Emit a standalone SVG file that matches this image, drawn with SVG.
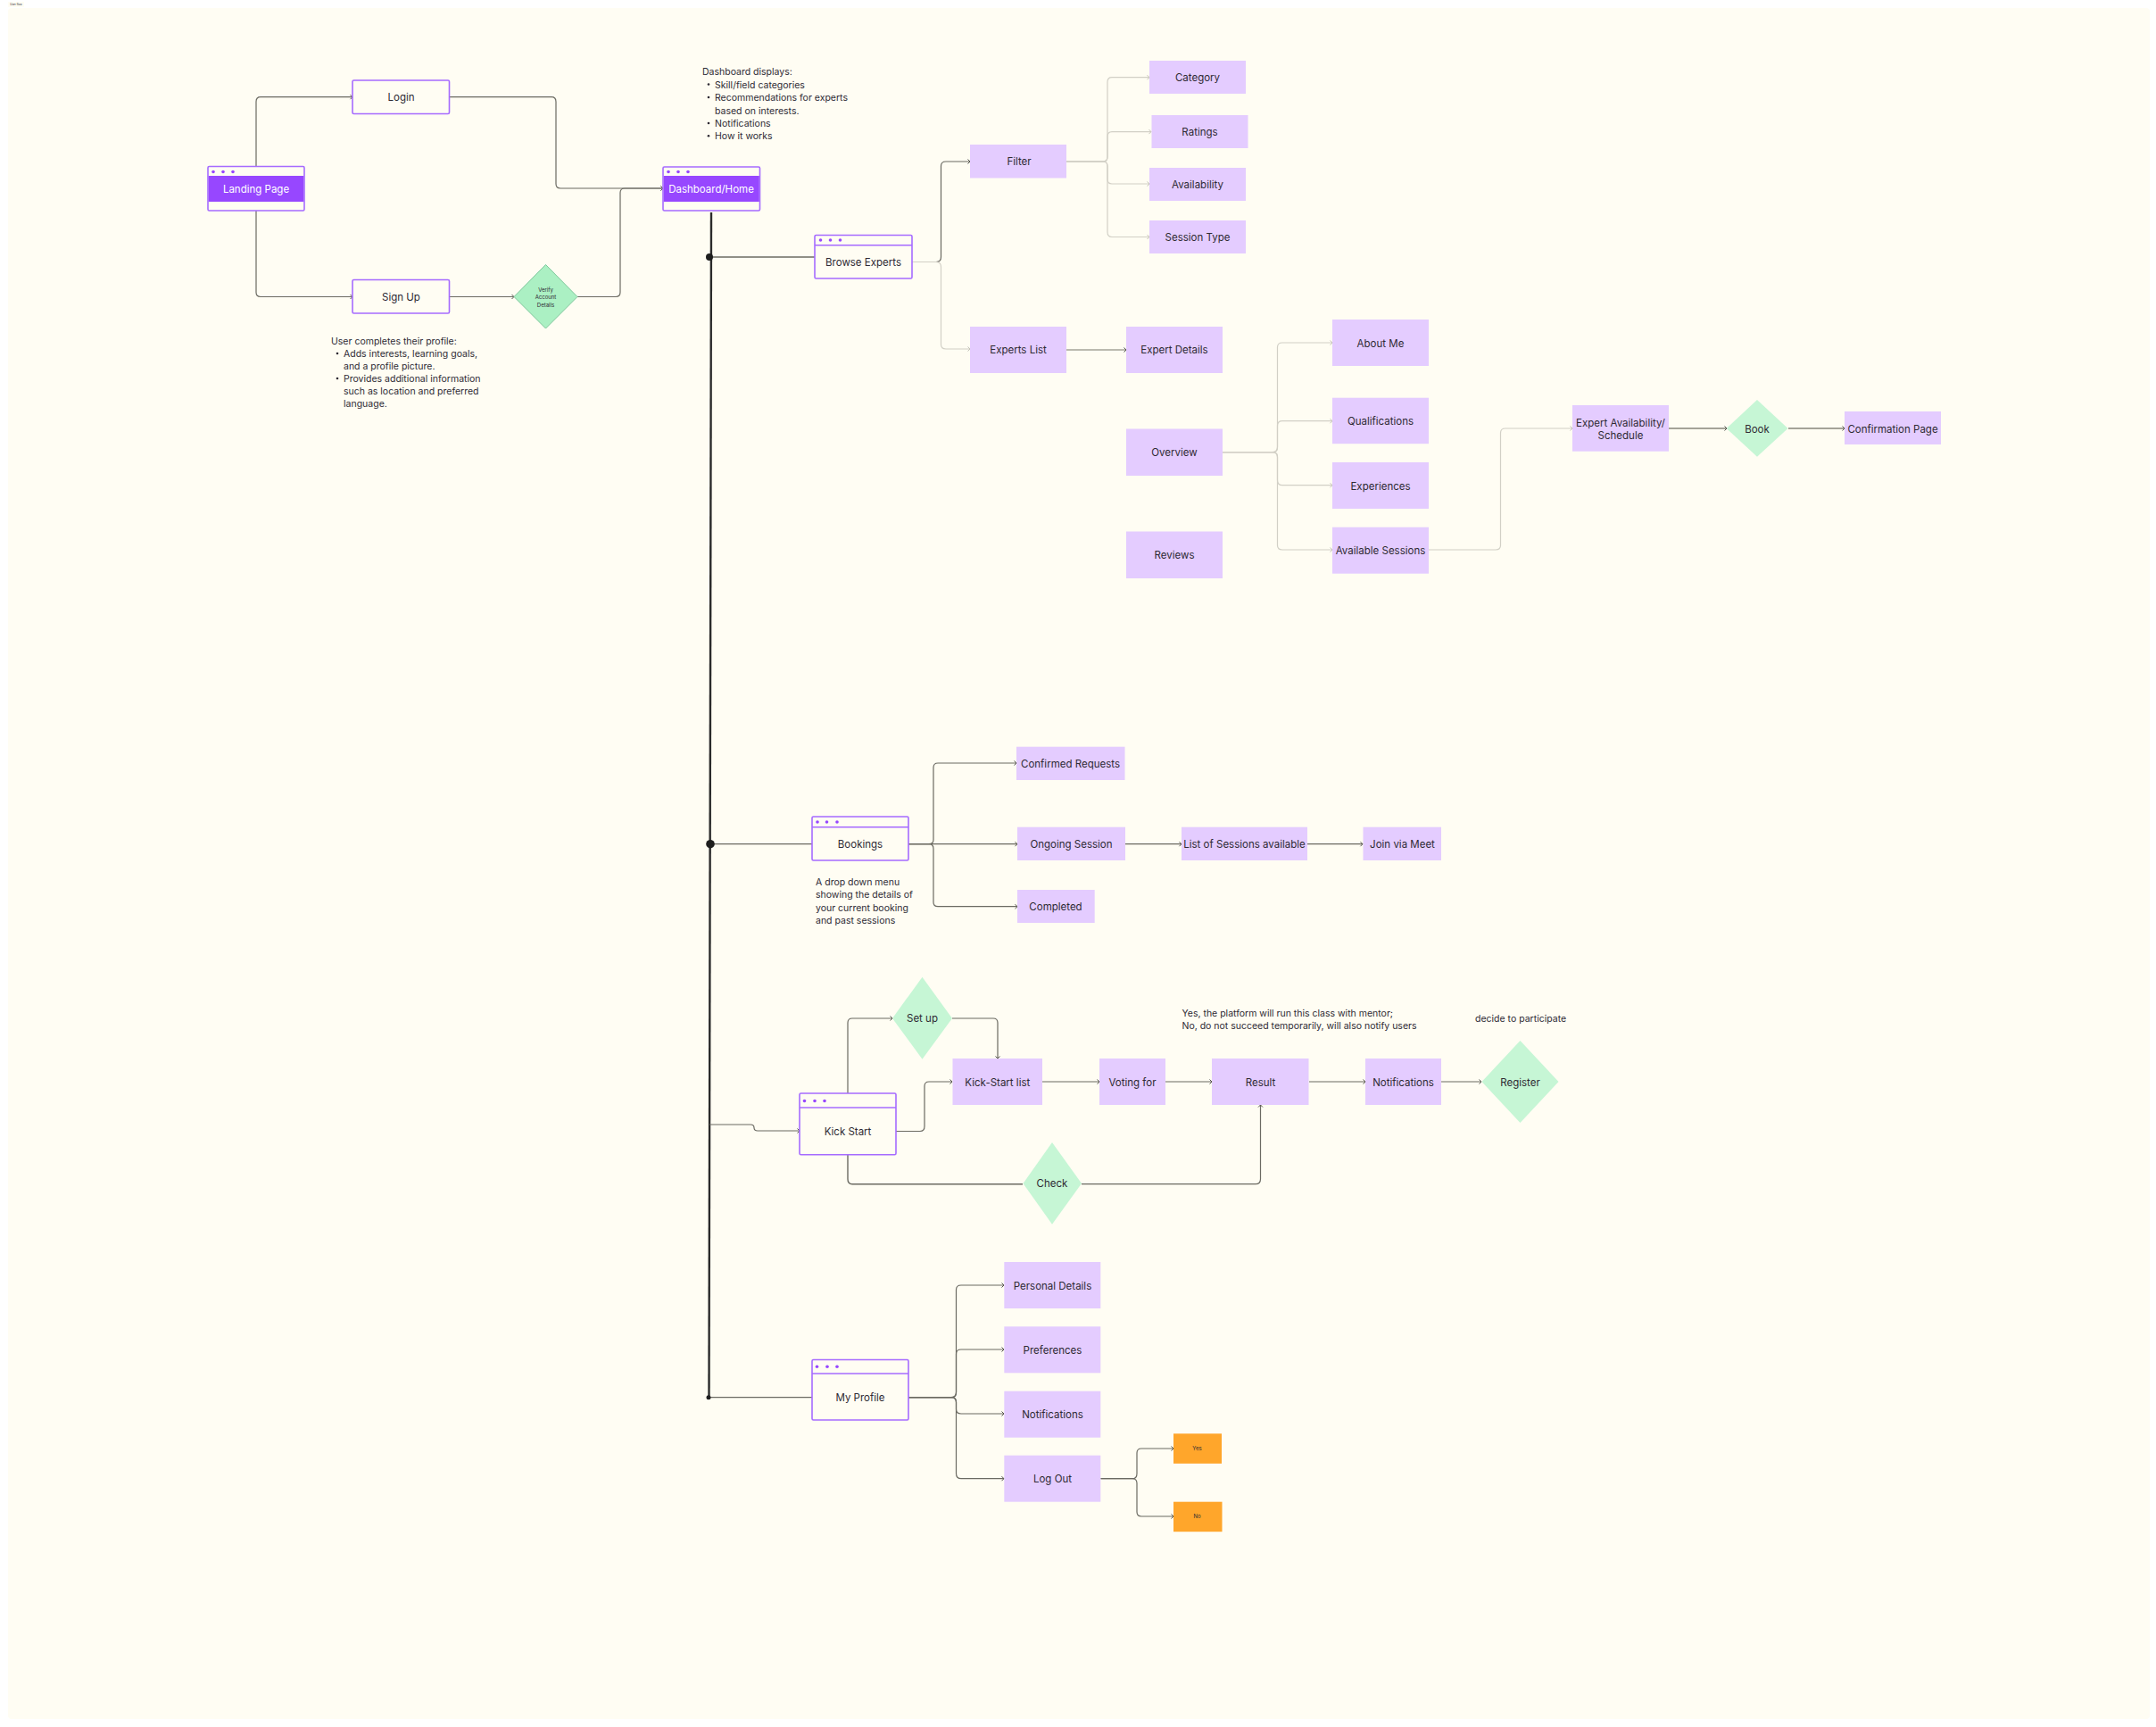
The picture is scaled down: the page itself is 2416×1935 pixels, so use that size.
<svg xmlns="http://www.w3.org/2000/svg" width="2416" height="1935" viewBox="0 0 2416 1935">
<style>
text{font-family:Inter,"Liberation Sans",sans-serif;font-size:10.5px;fill:#2e2a33}
.c{text-anchor:middle;dominant-baseline:central}
.big{font-size:11.5px}
.w{fill:#fff}
.win{fill:#fffdf3;stroke:#a66bff;stroke-width:1.6}
.band{fill:#9747ff}
.sep{stroke:#a66bff;stroke-width:1.4;fill:none}
.dot{fill:#9747ff}
.box{fill:#e4ccff}
.dia{fill:#c6f6d5}
.or{fill:#ffa62b}
.k{fill:none;stroke:#6b6a62;stroke-width:1.2;marker-end:url(#a)}
.n{fill:none;stroke:#6b6a62;stroke-width:1.2}
.l{fill:none;stroke:#d2d0c6;stroke-width:1.2;marker-end:url(#b)}
.ln{fill:none;stroke:#d2d0c6;stroke-width:1.2}
.g{fill:none;stroke:#a5a398;stroke-width:1.8;marker-end:url(#a)}
</style>
<defs>
<marker id="a" markerUnits="userSpaceOnUse" markerWidth="6" markerHeight="8" refX="5" refY="4" orient="auto"><path d="M2.5 1.5L5 4L2.5 6.5" fill="none" stroke="#55544d" stroke-width="1"/></marker>
<marker id="b" markerUnits="userSpaceOnUse" markerWidth="6" markerHeight="8" refX="5" refY="4" orient="auto"><path d="M2.5 1.5L5 4L2.5 6.5" fill="none" stroke="#c4c2b8" stroke-width="1"/></marker>
</defs>
<rect width="2416" height="1935" fill="#fff"/>
<rect x="9" y="9" width="2400" height="1917" rx="4" fill="#fffdf3"/>
<g id="frame-label"><rect x="9" y="2" width="18" height="6" fill="#fffdf3"/><text x="18" y="5" class="c" style="font-size:3px">User flow</text></g>

<g id="connectors">
<path class="k" d="M287 186V114Q287 108.700 292 108.700H395"/>
<path class="k" d="M287 236V327.500Q287 332.500 292 332.500H395"/>
<path class="k" d="M504 108.700H618Q623 108.700 623 114V206Q623 211 628 211H743"/>
<path class="k" d="M504 332.500H576"/>
<path class="k" d="M647 332.500H690Q695 332.500 695 327.500V216Q695 211 700 211H743"/>
<path d="M797 238L794.500 1566" fill="none" stroke="#2b2b2b" stroke-width="2.400"/>
<path class="n" d="M795 288H913" style="stroke-width:1.500"/>
<path class="k" d="M1022 293.500H1049Q1054.500 293.500 1054.500 288V186Q1054.500 181 1060 181H1087"/>
<path class="l" d="M1022 293.500H1049Q1054.500 293.500 1054.500 299V386Q1054.500 391 1060 391H1087"/>
<path class="l" d="M1195 181H1236Q1241 181 1241 176V92Q1241 86.700 1246 86.700H1288"/>
<path class="l" d="M1195 181H1236Q1241 181 1241 176V153Q1241 147.600 1246 147.600H1290"/>
<path class="l" d="M1195 181H1236Q1241 181 1241 186V201Q1241 206 1246 206H1288"/>
<path class="l" d="M1195 181H1236Q1241 181 1241 186V260Q1241 265.500 1246 265.500H1288"/>
<path class="g" d="M1195 392H1262" style="stroke-width:1.300"/>
<path class="l" d="M1370 506.700H1426Q1431.500 506.700 1431.500 501V389Q1431.500 384 1437 384H1493"/>
<path class="l" d="M1370 506.700H1426Q1431.500 506.700 1431.500 501V477Q1431.500 471.700 1437 471.700H1493"/>
<path class="l" d="M1370 506.700H1426Q1431.500 506.700 1431.500 512V538Q1431.500 543.700 1437 543.700H1493"/>
<path class="l" d="M1370 506.700H1426Q1431.500 506.700 1431.500 512V611Q1431.500 616 1437 616H1493"/>
<path class="l" d="M1601 616H1676Q1681.500 616 1681.500 611V485Q1681.500 480 1687 480H1762"/>
<path class="g" d="M1870 480H1935"/>
<path class="g" d="M2004 480H2067"/>
<path class="n" d="M796 945.700H910" style="stroke-width:1.300"/>
<path class="k" d="M1018 945.700H1041Q1046 945.700 1046 941V860Q1046 855 1051 855H1139"/>
<path class="k" d="M1018 945.700H1140"/>
<path class="k" d="M1018 945.700H1041Q1046 945.700 1046 951V1011Q1046 1015.700 1051 1015.700H1140"/>
<path class="k" d="M1261 945.700H1324"/>
<path class="k" d="M1465 945.700H1527"/>
<path class="k" d="M795 1260H841Q845 1260 845 1263.500Q845 1267 849 1267H896"/>
<path class="k" d="M950 1225V1146Q950 1141 955 1141H1000"/>
<path class="k" d="M1067 1141H1113Q1118 1141 1118 1146V1186"/>
<path class="k" d="M1004 1267.500H1031Q1036 1267.500 1036 1262V1217Q1036 1212 1041 1212H1067"/>
<path class="k" d="M1168 1212H1232"/>
<path class="k" d="M1306 1212H1358"/>
<path class="k" d="M1467 1212H1530"/>
<path class="k" d="M1615 1212H1660"/>
<path class="n" d="M950 1294V1321Q950 1326.700 955 1326.700H1146" style="stroke-width:1.400"/>
<path class="k" d="M1212 1326.700H1407Q1412.500 1326.700 1412.500 1321V1238"/>
<path class="n" d="M794 1565.700H910" style="stroke-width:1.200"/>
<path class="k" d="M1018 1565.700H1066Q1071.500 1565.700 1071.500 1560V1445Q1071.500 1440 1077 1440H1125"/>
<path class="k" d="M1018 1565.700H1066Q1071.500 1565.700 1071.500 1560V1517Q1071.500 1512 1077 1512H1125"/>
<path class="k" d="M1018 1565.700H1066Q1071.500 1565.700 1071.500 1571V1579Q1071.500 1584 1077 1584H1125"/>
<path class="k" d="M1018 1565.700H1066Q1071.500 1565.700 1071.500 1571V1651Q1071.500 1656.700 1077 1656.700H1125"/>
<path class="k" d="M1233.500 1656.700H1269Q1274 1656.700 1274 1651V1628Q1274 1623 1279 1623H1315"/>
<path class="k" d="M1233.500 1656.700H1269Q1274 1656.700 1274 1662V1694Q1274 1699 1279 1699H1315"/>
<circle cx="795" cy="288" r="4" fill="#1e1e1e"/>
<circle cx="796" cy="945.700" r="4.800" fill="#1e1e1e"/>
<circle cx="794" cy="1565.700" r="2.500" fill="#1e1e1e"/>
</g>

<g id="landing-page"><rect class="win" x="233" y="186.500" width="108" height="49.500" rx="1.500"/><rect class="band" x="233.800" y="197" width="106.400" height="29"/><circle class="dot" cx="239" cy="192.500" r="1.800"/><circle class="dot" cx="250" cy="192.500" r="1.800"/><circle class="dot" cx="261" cy="192.500" r="1.800"/><text class="c big w" x="287" y="212" style="fill:#fff">Landing Page</text></g>
<g id="login"><rect class="win" x="395" y="90" width="108.500" height="37.500" rx="1.500"/><text class="c big" x="449.500" y="109">Login</text></g>
<g id="sign-up"><rect class="win" x="395" y="313.500" width="108.500" height="37.500" rx="1.500"/><text class="c big" x="449.500" y="333">Sign Up</text></g>
<g id="verify"><path d="M611.500 296.500L647 332.500L611.500 368L576 332.500Z" fill="#abf0c3" stroke="#7fc79b"/><text class="c" style="font-size:6px" x="611.500" y="324">Verify</text><text class="c" style="font-size:6px" x="611.500" y="332.700">Account</text><text class="c" style="font-size:6px" x="611.500" y="341">Details</text></g>
<g id="profile-note"><text x="371" y="386">User completes their profile:</text><circle cx="378" cy="396" r="1.300" fill="#2e2a33"/><text x="385" y="400">Adds interests, learning goals,</text><text x="385" y="414">and a profile picture.</text><circle cx="378" cy="424" r="1.300" fill="#2e2a33"/><text x="385" y="428">Provides additional information</text><text x="385" y="442">such as location and preferred</text><text x="385" y="456">language.</text></g>

<g id="dashboard-home"><rect class="win" x="743" y="187" width="108.500" height="49" rx="1.500"/><rect class="band" x="743.800" y="197" width="107" height="29"/><circle class="dot" cx="749" cy="192.500" r="1.800"/><circle class="dot" cx="760" cy="192.500" r="1.800"/><circle class="dot" cx="771" cy="192.500" r="1.800"/><text class="c big" x="797" y="212" style="fill:#fff">Dashboard/Home</text></g>
<g id="dashboard-note"><text x="787" y="84">Dashboard displays:</text><circle cx="794" cy="94.500" r="1.300" fill="#2e2a33"/><text x="801" y="98.500">Skill/field categories</text><circle cx="794" cy="109" r="1.300" fill="#2e2a33"/><text x="801" y="113">Recommendations for experts</text><text x="801" y="127.500">based on interests.</text><circle cx="794" cy="138" r="1.300" fill="#2e2a33"/><text x="801" y="142">Notifications</text><circle cx="794" cy="152.300" r="1.300" fill="#2e2a33"/><text x="801" y="156.300">How it works</text></g>

<g id="browse-experts"><rect class="win" x="913" y="263.500" width="109" height="48.500" rx="1.500"/><path class="sep" d="M913 274.800H1022"/><circle class="dot" cx="919.500" cy="269" r="1.800"/><circle class="dot" cx="930.500" cy="269" r="1.800"/><circle class="dot" cx="941.500" cy="269" r="1.800"/><text class="c big" x="967.500" y="294">Browse Experts</text></g>
<g id="filter"><rect class="box" x="1087" y="162" width="108" height="37.500"/><text class="c big" x="1142" y="181">Filter</text></g>
<g id="experts-list"><rect class="box" x="1087" y="366" width="108" height="52"/><text class="c big" x="1141" y="392">Experts List</text></g>
<g id="expert-details"><rect class="box" x="1262" y="366" width="108" height="52"/><text class="c big" x="1316" y="392">Expert Details</text></g>
<g id="overview"><rect class="box" x="1262" y="480.500" width="108" height="52.500"/><text class="c big" x="1316" y="507">Overview</text></g>
<g id="reviews"><rect class="box" x="1262" y="595.500" width="108" height="52.500"/><text class="c big" x="1316" y="622">Reviews</text></g>
<g id="category"><rect class="box" x="1288" y="68" width="108" height="37"/><text class="c big" x="1342" y="87">Category</text></g>
<g id="ratings"><rect class="box" x="1290.500" y="129" width="108" height="37"/><text class="c big" x="1344.500" y="148">Ratings</text></g>
<g id="availability"><rect class="box" x="1288" y="188" width="108" height="37"/><text class="c big" x="1342" y="207">Availability</text></g>
<g id="session-type"><rect class="box" x="1288" y="247" width="108" height="37"/><text class="c big" x="1342" y="266">Session Type</text></g>
<g id="about-me"><rect class="box" x="1493" y="358" width="108" height="52"/><text class="c big" x="1547" y="384.500">About Me</text></g>
<g id="qualifications"><rect class="box" x="1493" y="445.700" width="108" height="51.500"/><text class="c big" x="1547" y="472">Qualifications</text></g>
<g id="experiences"><rect class="box" x="1493" y="518" width="108" height="52"/><text class="c big" x="1547" y="544.500">Experiences</text></g>
<g id="available-sessions"><rect class="box" x="1493" y="590.700" width="108" height="52"/><text class="c big" x="1547" y="617">Available Sessions</text></g>
<g id="expert-availability"><rect class="box" x="1762" y="454" width="108" height="51.700"/><text class="c big" x="1816" y="473.500">Expert Availability/</text><text class="c big" x="1816" y="487.500">Schedule</text></g>
<g id="book"><path class="dia" d="M1969 448L2003.500 480L1969 511.700L1934.700 480Z"/><text class="c big" x="1969" y="480.500">Book</text></g>
<g id="confirmation"><rect class="box" x="2067" y="461" width="108" height="37"/><text class="c big" x="2121" y="480.500">Confirmation Page</text></g>

<g id="bookings"><rect class="win" x="910" y="915" width="108" height="49" rx="1.500"/><path class="sep" d="M910 926.700H1018"/><circle class="dot" cx="916" cy="921" r="1.800"/><circle class="dot" cx="926.500" cy="921" r="1.800"/><circle class="dot" cx="938" cy="921" r="1.800"/><text class="c big" x="964" y="946">Bookings</text></g>
<g id="bookings-note"><text x="914" y="992">A drop down menu</text><text x="914" y="1006.300">showing the details of</text><text x="914" y="1020.700">your current booking</text><text x="914" y="1035">and past sessions</text></g>
<g id="confirmed-requests"><rect class="box" x="1139" y="836.700" width="121.500" height="37.300"/><text class="c big" x="1199.500" y="856">Confirmed Requests</text></g>
<g id="ongoing-session"><rect class="box" x="1140" y="926.700" width="121" height="37.300"/><text class="c big" x="1200.500" y="946">Ongoing Session</text></g>
<g id="sessions-list"><rect class="box" x="1324" y="926.700" width="141" height="37.300"/><text class="c big" x="1394.500" y="946">List of Sessions available</text></g>
<g id="join-meet"><rect class="box" x="1527.500" y="926.700" width="87.500" height="37.300"/><text class="c big" x="1571.500" y="946">Join via Meet</text></g>
<g id="completed"><rect class="box" x="1140" y="997" width="86.700" height="37"/><text class="c big" x="1183" y="1016">Completed</text></g>

<g id="kick-start"><rect class="win" x="896" y="1225" width="108" height="68.700" rx="1.500"/><path class="sep" d="M896 1241H1004"/><circle class="dot" cx="901.500" cy="1233.500" r="1.800"/><circle class="dot" cx="913" cy="1233.500" r="1.800"/><circle class="dot" cx="924" cy="1233.500" r="1.800"/><text class="c big" x="950" y="1268">Kick Start</text></g>
<g id="set-up"><path class="dia" d="M1033.500 1094.700L1067 1141L1033.500 1186.700L1000 1141Z"/><text class="c big" x="1033.500" y="1141">Set up</text></g>
<g id="kick-start-list"><rect class="box" x="1067.500" y="1186" width="100.500" height="52"/><text class="c big" x="1117.800" y="1212.500">Kick-Start list</text></g>
<g id="voting-for"><rect class="box" x="1232" y="1186" width="74" height="52"/><text class="c big" x="1269" y="1212.500">Voting for</text></g>
<g id="result"><rect class="box" x="1358" y="1186" width="108.500" height="52"/><text class="c big" x="1412.500" y="1212.500">Result</text></g>
<g id="notifications-1"><rect class="box" x="1530" y="1186" width="85" height="52"/><text class="c big" x="1572.500" y="1212.500">Notifications</text></g>
<g id="register"><path class="dia" d="M1703.500 1166L1746.500 1212L1703.500 1258L1660.500 1212Z"/><text class="c big" x="1703.500" y="1212.500">Register</text></g>
<g id="check"><path class="dia" d="M1179 1280L1212 1326L1179 1371.700L1146.500 1326Z"/><text class="c big" x="1179" y="1326">Check</text></g>
<g id="result-note"><text x="1324.500" y="1139">Yes, the platform will run this class with mentor;</text><text x="1324.500" y="1153">No, do not succeed temporarily, will also notify users</text></g>
<g id="participate-note"><text x="1653" y="1144.500">decide to participate</text></g>

<g id="my-profile"><rect class="win" x="910" y="1523.500" width="108" height="67.500" rx="1.500"/><path class="sep" d="M910 1539H1018"/><circle class="dot" cx="915.500" cy="1531.300" r="1.800"/><circle class="dot" cx="927" cy="1531.300" r="1.800"/><circle class="dot" cx="938" cy="1531.300" r="1.800"/><text class="c big" x="964" y="1566">My Profile</text></g>
<g id="personal-details"><rect class="box" x="1125.300" y="1414" width="108" height="52"/><text class="c big" x="1179.500" y="1440.500">Personal Details</text></g>
<g id="preferences"><rect class="box" x="1125.300" y="1486.300" width="108" height="52"/><text class="c big" x="1179.500" y="1512.700">Preferences</text></g>
<g id="notifications-2"><rect class="box" x="1125.300" y="1558.700" width="108" height="52"/><text class="c big" x="1179.500" y="1585">Notifications</text></g>
<g id="log-out"><rect class="box" x="1125.300" y="1630.700" width="108" height="52"/><text class="c big" x="1179.500" y="1657">Log Out</text></g>
<g id="yes"><rect class="or" x="1315" y="1606.300" width="54" height="33.500"/><text class="c" style="font-size:6px" x="1341.500" y="1622">Yes</text></g>
<g id="no"><rect class="or" x="1315" y="1682.700" width="54.500" height="33.500"/><text class="c" style="font-size:6px" x="1341.500" y="1698.500">No</text></g>
</svg>
